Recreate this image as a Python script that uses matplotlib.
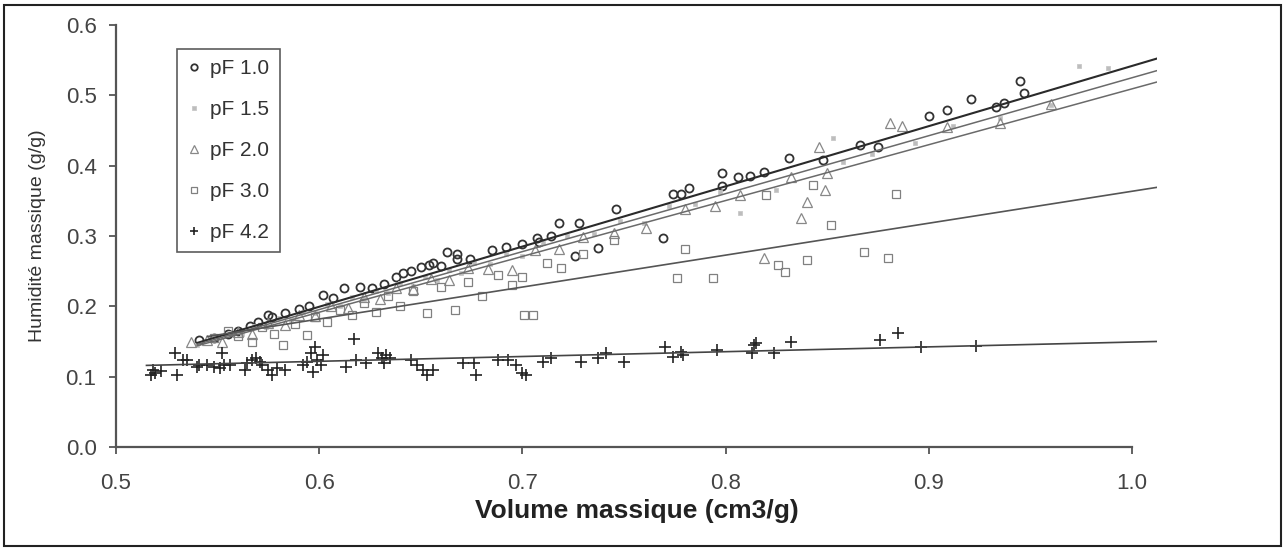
import matplotlib
matplotlib.use("Agg")
import matplotlib.pyplot as plt
from matplotlib.patches import Rectangle
import numpy as np

plt.rcParams['font.family'] = ['Liberation Sans', 'DejaVu Sans']

# ---------------- data ----------------
series_labels = ["pF 1.0", "pF 1.5", "pF 2.0", "pF 3.0", "pF 4.2"]

x_pf10 = [0.541,0.548,0.555,0.560,0.566,0.570,0.575,0.577,0.583,0.590,0.595,0.602,0.607,0.612,0.620,0.626,0.632,0.638,0.641,0.645,
          0.650,0.654,0.656,0.660,0.663,0.668,0.668,0.674,0.685,0.692,0.700,0.707,0.708,0.714,0.718,0.726,0.728,0.737,0.746,0.769,
          0.774,0.778,0.782,0.798,0.798,0.806,0.812,0.819,0.831,0.848,0.866,0.875,0.900,0.909,0.921,0.933,0.937,0.945,0.947]
y_pf10 = [0.152,0.155,0.160,0.165,0.172,0.178,0.188,0.185,0.190,0.196,0.200,0.216,0.212,0.226,0.228,0.226,0.232,0.242,0.247,0.250,
          0.256,0.259,0.262,0.258,0.277,0.268,0.274,0.268,0.280,0.285,0.288,0.297,0.292,0.300,0.319,0.271,0.319,0.283,0.339,0.297,
          0.360,0.360,0.368,0.371,0.390,0.384,0.385,0.391,0.411,0.408,0.430,0.427,0.471,0.479,0.495,0.484,0.489,0.521,0.503]

x_pf15 = [0.540,0.548,0.556,0.562,0.568,0.574,0.580,0.586,0.592,0.598,0.604,0.610,0.616,0.622,0.628,0.634,0.640,0.646,0.652,0.658,
          0.664,0.670,0.676,0.684,0.692,0.700,0.710,0.722,0.735,0.748,0.760,0.772,0.785,0.797,0.807,0.825,0.853,0.858,0.872,0.893,
          0.912,0.935,0.960,0.974,0.988]
y_pf15 = [0.145,0.158,0.162,0.160,0.172,0.170,0.183,0.181,0.192,0.190,0.203,0.200,0.213,0.210,0.222,0.219,0.233,0.229,0.242,0.238,
          0.252,0.247,0.262,0.260,0.275,0.272,0.290,0.300,0.303,0.322,0.318,0.342,0.345,0.362,0.333,0.366,0.440,0.405,0.417,0.432,
          0.456,0.468,0.486,0.541,0.539]

x_pf20 = [0.537,0.545,0.552,0.560,0.567,0.575,0.583,0.590,0.598,0.606,0.614,0.622,0.630,0.638,0.646,0.655,0.664,0.673,0.683,0.695,
          0.706,0.718,0.730,0.745,0.761,0.780,0.795,0.807,0.819,0.832,0.837,0.840,0.846,0.849,0.850,0.881,0.887,0.909,0.935,0.960]
y_pf20 = [0.150,0.152,0.150,0.163,0.160,0.176,0.174,0.188,0.186,0.200,0.198,0.213,0.211,0.226,0.224,0.239,0.237,0.255,0.253,0.252,
          0.280,0.282,0.299,0.304,0.311,0.339,0.343,0.358,0.269,0.384,0.326,0.349,0.427,0.366,0.390,0.461,0.457,0.455,0.461,0.487]

x_pf30 = [0.548,0.555,0.560,0.567,0.572,0.578,0.582,0.588,0.594,0.598,0.604,0.610,0.616,0.622,0.628,0.634,0.640,0.646,0.653,0.660,
          0.667,0.673,0.680,0.688,0.695,0.700,0.701,0.705,0.712,0.719,0.730,0.745,0.776,0.780,0.794,0.820,0.826,0.829,0.840,0.843,
          0.852,0.868,0.880,0.884]
y_pf30 = [0.155,0.165,0.158,0.149,0.170,0.160,0.145,0.175,0.159,0.185,0.178,0.195,0.188,0.205,0.192,0.215,0.200,0.222,0.190,0.228,
          0.195,0.235,0.215,0.245,0.230,0.242,0.188,0.188,0.262,0.255,0.275,0.295,0.240,0.282,0.240,0.358,0.259,0.249,0.266,0.373,
          0.316,0.277,0.269,0.360]

x_pf42 = [0.517,0.518,0.519,0.522,0.530,0.529,0.533,0.535,0.540,0.541,0.545,0.548,0.551,0.553,0.552,0.556,0.5635,0.5645,0.567,0.569,
          0.571,0.572,0.575,0.577,0.579,0.583,0.592,0.594,0.596,0.597,0.598,0.599,0.601,0.602,0.613,0.617,0.618,0.623,0.629,0.631,
          0.633,0.635,0.632,0.645,0.648,0.651,0.653,0.656,0.671,0.676,0.677,0.688,0.693,0.697,0.700,0.702,0.710,0.714,0.729,0.737,
          0.741,0.750,0.770,0.774,0.778,0.779,0.796,0.813,0.814,0.815,0.824,0.832,0.876,0.885,0.896,0.923]
y_pf42 = [0.102,0.110,0.105,0.108,0.102,0.134,0.124,0.124,0.114,0.117,0.117,0.114,0.112,0.117,0.134,0.117,0.110,0.119,0.124,0.127,
          0.121,0.117,0.110,0.102,0.112,0.110,0.117,0.121,0.134,0.107,0.142,0.124,0.117,0.131,0.114,0.154,0.124,0.119,0.134,0.127,
          0.131,0.127,0.119,0.124,0.117,0.110,0.102,0.110,0.119,0.119,0.102,0.124,0.124,0.117,0.105,0.102,0.121,0.127,0.121,0.127,
          0.134,0.121,0.142,0.128,0.135,0.131,0.138,0.134,0.145,0.148,0.134,0.149,0.152,0.162,0.142,0.144]

# linear trend lines (slope, intercept, x range)
trend_slope = [0.856, 0.824, 0.794, 0.454, 0.0684]
trend_intercept = [-0.3142, -0.2990, -0.2848, -0.0904, 0.0808]
trend_xstart = [0.540, 0.540, 0.540, 0.545, 0.515]
trend_xend = [1.012, 1.012, 1.012, 1.012, 1.012]

x_ticks = [0.5, 0.6, 0.7, 0.8, 0.9, 1.0]
y_ticks = [0.0, 0.1, 0.2, 0.3, 0.4, 0.5, 0.6]

# ---------------- figure ----------------
fig = plt.figure(figsize=(12.87, 5.5), dpi=100)
ax = fig.add_axes([116/1287, 103/550, 1041.4/1287, 422/550])

xs = [x_pf10, x_pf15, x_pf20, x_pf30, x_pf42]
ys = [y_pf10, y_pf15, y_pf20, y_pf30, y_pf42]
styles = [
    dict(marker='o', ms=5.8, mfc='none', mec='#333333', mew=1.3),
    dict(marker='s', ms=3.5, mfc='#bdbdbd', mec='#c8c8c8', mew=0.6),
    dict(marker='^', ms=6.5, mfc='none', mec='#888888', mew=0.9),
    dict(marker='s', ms=5.5, mfc='none', mec='#808080', mew=0.9),
    dict(marker='+', ms=8, mfc='none', mec='#222222', mew=1.2),
]
line_styles = [dict(color='#2a2a2a', lw=1.5), dict(color='#6a6a6a', lw=1.1),
               dict(color='#6a6a6a', lw=1.1), dict(color='#555555', lw=1.2),
               dict(color='#444444', lw=1.2)]

handles = []
for i in range(5):
    h, = ax.plot(xs[i], ys[i], ls='none', label=series_labels[i], zorder=3, **styles[i])
    handles.append(h)

for i in range(5):
    lx = np.array([trend_xstart[i], trend_xend[i]])
    ly = trend_slope[i] * lx + trend_intercept[i]
    ax.plot(lx, ly, zorder=4, **line_styles[i])

ax.set_xlim(0.5, 1.0125)
ax.set_ylim(0.0, 0.6)
ax.set_xticks(x_ticks)
ax.set_yticks(y_ticks)
ax.set_xticklabels([f"{v:.1f}" for v in x_ticks])
ax.set_yticklabels([f"{v:.1f}" for v in y_ticks])

for s in ['top', 'right']:
    ax.spines[s].set_visible(False)
ax.spines['bottom'].set_bounds(0.5, 1.0)
for s in ['left', 'bottom']:
    ax.spines[s].set_color('#555555')
    ax.spines[s].set_linewidth(1.6)
ax.tick_params(axis='both', direction='out', length=5, width=1.3, color='#555555',
               labelsize=16, labelcolor='#444444')
ax.tick_params(axis='x', pad=14)
ax.tick_params(axis='y', pad=9)

ax.set_xlabel("Volume massique (cm3/g)", fontsize=19, fontweight='bold', color='#222222', labelpad=3)
ax.set_ylabel("Humidité massique (g/g)", fontsize=14, color='#333333', labelpad=14)

leg = ax.legend(handles=handles, loc='upper left', bbox_to_anchor=(177/1287, 1 - 49/550),
                bbox_transform=fig.transFigure, fontsize=15, frameon=True, fancybox=False,
                labelspacing=1.05, handlelength=0.6, handletextpad=0.5, borderpad=0.5,
                borderaxespad=0, markerscale=0.8)
leg.get_frame().set_edgecolor('#333333')
leg.get_frame().set_linewidth(1.2)
for t in leg.get_texts():
    t.set_color('#333333')

fig.add_artist(Rectangle((4/1287, 4/550), 1277/1287, 541/550, transform=fig.transFigure,
                         fill=False, ec='#222222', lw=1.5))

fig.savefig("out.png", dpi=100)
